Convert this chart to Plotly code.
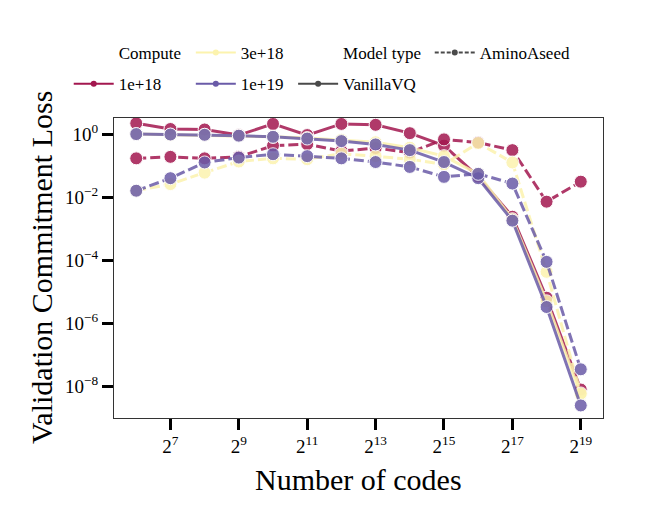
import plotly.graph_objects as go
import math

# number of codes as powers of two
exponents = list(range(6, 20))
codes = [2 ** k for k in exponents]

# validation commitment loss
vanilla_1e18 = [2.2, 1.45, 1.4, 0.93, 2.1, 0.93, 2.1, 1.97, 1.07, 0.43, 0.045, 0.0024, 6.5e-6, 8e-9]
vanilla_3e18 = [1.0, 0.95, 0.95, 0.9, 0.82, 0.75, 0.66, 0.55, 0.37, 0.2, 0.055, 0.002, 5e-6, 5.5e-9]
vanilla_1e19 = [1.0, 0.97, 0.95, 0.89, 0.82, 0.72, 0.6, 0.47, 0.31, 0.13, 0.04, 0.0018, 3.3e-6, 2.5e-9]
amino_1e18 = [0.17, 0.19, 0.17, 0.19, 0.43, 0.48, 0.29, 0.36, 0.26, 0.68, 0.54, 0.31, 0.0072, 0.031]
amino_3e18 = [0.016, 0.026, 0.06, 0.135, 0.17, 0.16, 0.24, 0.2, 0.16, 0.11, 0.52, 0.126, 4.3e-5, 6e-9]
amino_1e19 = [0.016, 0.04, 0.126, 0.18, 0.23, 0.2, 0.17, 0.13, 0.091, 0.044, 0.055, 0.027, 8.9e-5, 3.5e-8]

computes = ["1e+18", "3e+18", "1e+19"]
colors = {"1e+18": "#A3174F", "3e+18": "#FCF3AE", "1e+19": "#6A5BA8"}

x_ticks = [2 ** k for k in range(7, 20, 2)]
x_ticktext = ["2<sup>%d</sup>" % k for k in range(7, 20, 2)]
y_ticks = [10.0 ** e for e in range(0, -9, -2)]
y_ticktext = ["10<sup>%s</sup>" % (str(e).replace("-", "\u2212")) for e in range(0, -9, -2)]

series = [
    ("1e+18", "solid", vanilla_1e18),
    ("1e+18", "dash", amino_1e18),
    ("3e+18", "solid", vanilla_3e18),
    ("3e+18", "dash", amino_3e18),
    ("1e+19", "solid", vanilla_1e19),
    ("1e+19", "dash", amino_1e19),
]

SERIF = "Liberation Serif, Times New Roman, serif"

fig = go.Figure()

for comp, style, vals in series:
    fig.add_trace(go.Scatter(
        x=codes, y=vals, mode="lines+markers",
        line=dict(color=colors[comp], width=3,
                  dash="solid" if style == "solid" else "10px,4px"),
        marker=dict(size=13, color=colors[comp], line=dict(color="white", width=1)),
        opacity=0.85, showlegend=False, hoverinfo="skip",
    ))

# legend: four columns, two rows, like the matplotlib one
legend_items = [
    ("Compute", None, "solid", 0.092, 0.948),
    ("1e+18", colors["1e+18"], "solid", 0.092, 0.888),
    ("3e+18", colors["3e+18"], "solid", 0.277, 0.948),
    ("1e+19", colors["1e+19"], "solid", 0.277, 0.888),
    ("Model type", None, "solid", 0.432, 0.948),
    ("VanillaVQ", "#4a4a4a", "solid", 0.432, 0.888),
    ("AminoAseed", "#4a4a4a", "4px,2px", 0.639, 0.948),
]

for i, (name, col, dash, lx, ly) in enumerate(legend_items):
    key = "legend" if i == 0 else "legend%d" % (i + 1)
    if col is None:
        tr = go.Scatter(x=[None], y=[None], mode="lines", name=name,
                        line=dict(color="rgba(0,0,0,0)", width=2), legend=key)
    else:
        tr = go.Scatter(x=[None], y=[None], mode="lines+markers", name=name,
                        line=dict(color=col, width=2, dash=dash),
                        marker=dict(size=6, color=col), legend=key)
    fig.add_trace(tr)
    fig.update_layout(**{key: dict(
        x=lx, y=ly, xref="container", yref="container", xanchor="left", yanchor="top",
        bgcolor="rgba(0,0,0,0)", font=dict(family=SERIF, size=17, color="black"),
        itemwidth=40, itemclick=False, itemdoubleclick=False,
    )})

fig.update_xaxes(
    type="log", range=[5.35 * math.log10(2), 19.65 * math.log10(2)],
    tickvals=x_ticks, ticktext=x_ticktext,
    ticks="outside", ticklen=11, tickwidth=2.5, tickcolor="black",
    showline=True, linecolor="#333333", linewidth=1, mirror=True,
    showgrid=False, zeroline=False, automargin=False,
    tickfont=dict(family=SERIF, size=19, color="black"),
)
fig.update_yaxes(
    type="log", range=[-9.0, 0.51],
    tickvals=y_ticks, ticktext=y_ticktext,
    ticks="outside", ticklen=11, tickwidth=2.5, tickcolor="black",
    showline=True, linecolor="#333333", linewidth=1, mirror=True,
    showgrid=False, zeroline=False, automargin=False,
    tickfont=dict(family=SERIF, size=19, color="black"),
)

# axis titles
fig.add_annotation(text="Number of codes", xref="paper", yref="paper", x=0.5, y=0,
                   yshift=-61, xanchor="center", yanchor="middle", showarrow=False,
                   font=dict(family=SERIF, size=30, color="black"))
fig.add_annotation(text="Validation Commitment Loss", xref="paper", yref="paper", x=0, y=0.5,
                   xshift=-73, xanchor="center", yanchor="middle", showarrow=False, textangle=-90,
                   font=dict(family=SERIF, size=30, color="black"))

fig.update_layout(
    width=660, height=520,
    font=dict(family=SERIF, color="black"),
    margin=dict(l=106, r=65, t=110, b=110, autoexpand=False),
    paper_bgcolor="white", plot_bgcolor="white",
)

fig.write_html("out.html")
